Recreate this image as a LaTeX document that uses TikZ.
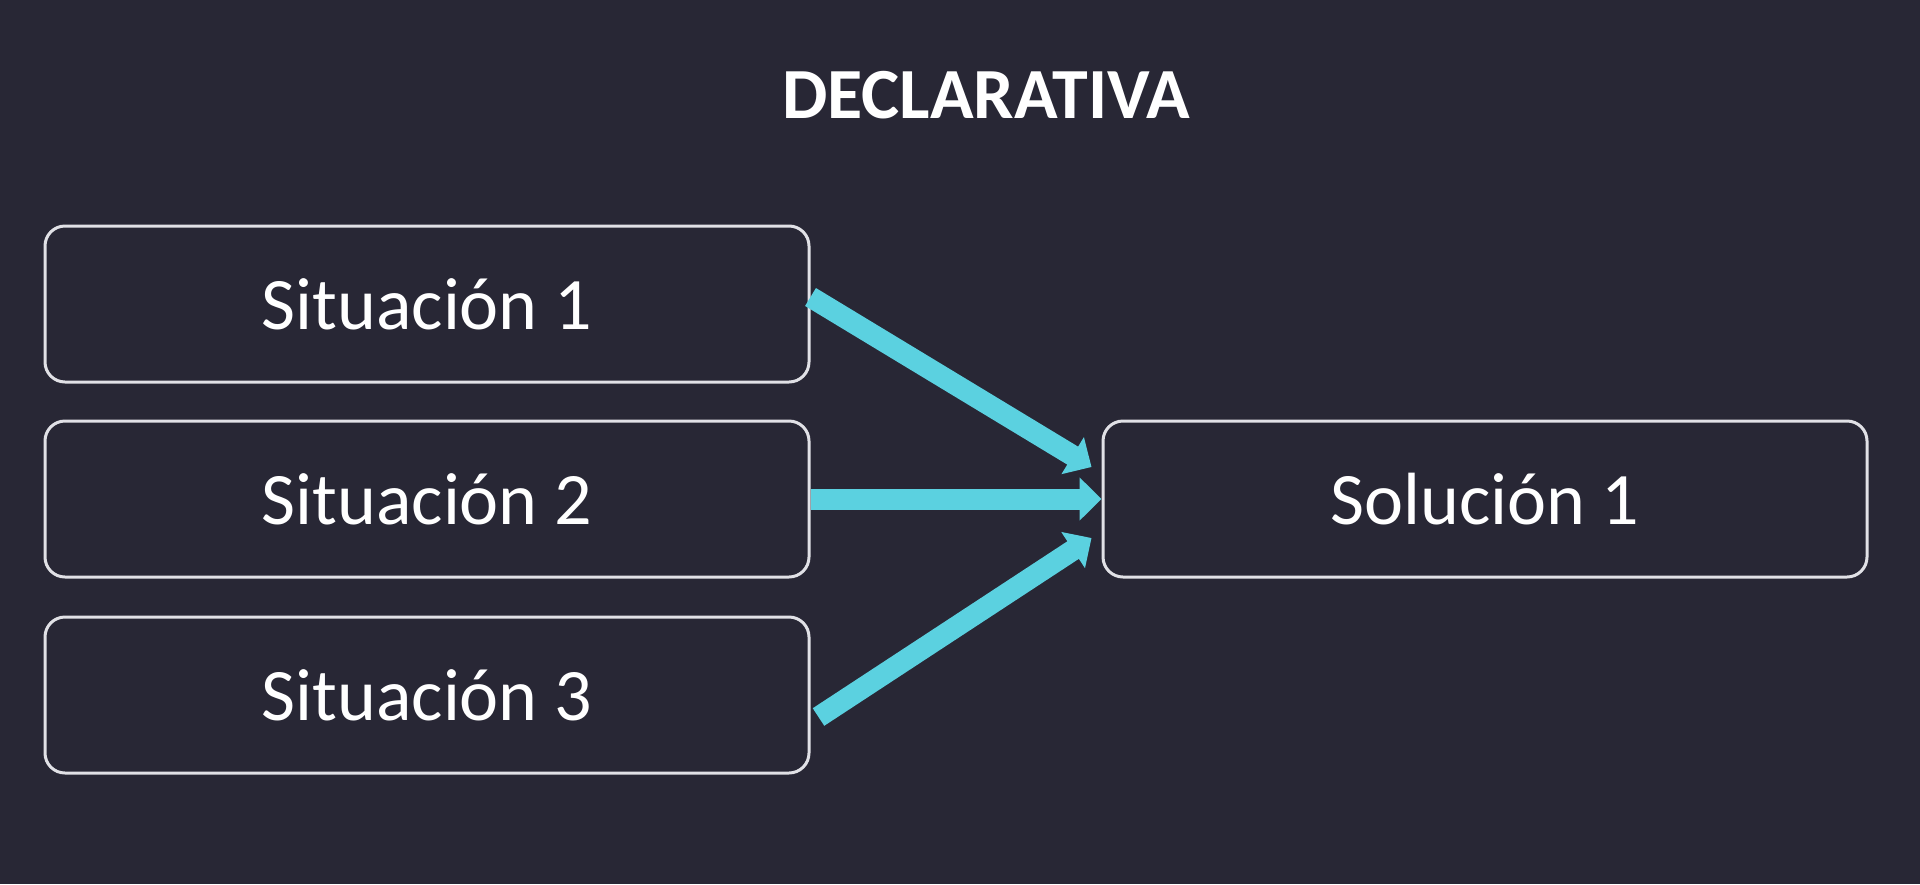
\documentclass[tikz,border=0pt]{standalone}
\usepackage{fontspec}
\setmainfont{Carlito}
\usetikzlibrary{arrows.meta,calc}
\definecolor{bg}{RGB}{40,39,53}
\definecolor{cyanarrow}{RGB}{91,209,224}
\definecolor{boxline}{RGB}{225,225,230}
\tikzset{
  sbox/.style={draw=boxline, line width=1.5pt, rounded corners=10pt, minimum width=382pt, minimum height=78pt, inner sep=0pt, text=white, font=\fontsize{37pt}{42pt}\selectfont},
  conn/.style={draw=cyanarrow, line width=10.5pt, -{Triangle[width=21pt,length=11pt]}}
}
\begin{document}
\begin{tikzpicture}[x=0.5pt,y=-0.5pt]
\fill[bg] (0,0) rectangle (1920,884);
\useasboundingbox (0,0) rectangle (1920,884);
\node[text=white, font=\bfseries\fontsize{36pt}{42pt}\selectfont] (title) at (986,95) {DECLARATIVA};
\node[sbox] (s1) at (427,304) {Situación 1};
\node[sbox] (s2) at (427,499) {Situación 2};
\node[sbox] (s3) at (427,695) {Situación 3};
\node[sbox] (sol) at (1485,499) {Solución 1};
\draw[conn] ($(s1.east)+(0,-7)$) -- ($(sol.west)+(-10,-32)$);
\draw[conn] (s2.east) -- (sol.west);
\draw[conn] ($(s3.east)+(8,22)$) -- ($(sol.west)+(-10,39)$);
\end{tikzpicture}
\end{document}
